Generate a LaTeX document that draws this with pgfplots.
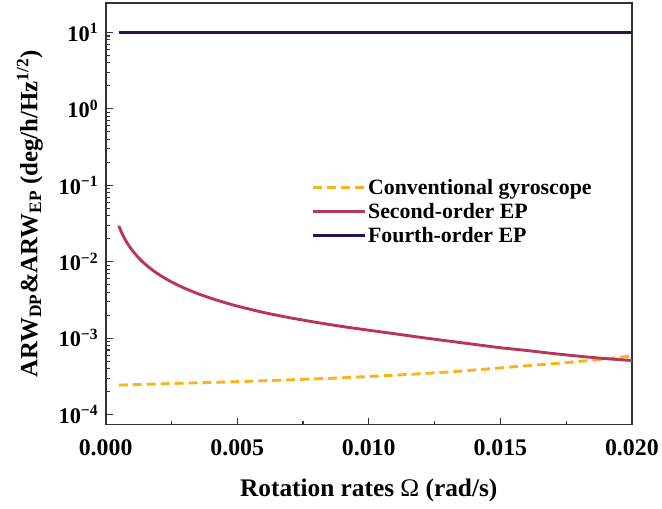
\documentclass[border=0pt]{standalone}
\usepackage{pgfplots}
\pgfplotsset{compat=1.18}
\usepackage{fontspec}
\setmainfont{Liberation Serif}
\definecolor{cgold}{HTML}{FDB219}
\definecolor{cred}{HTML}{B8365A}
\definecolor{cpurp}{HTML}{2D0F56}
\definecolor{axgray}{HTML}{333333}
\begin{document}
\begin{tikzpicture}
\begin{axis}[
  scale only axis,
  width=528bp, height=423bp,
  xmin=0, xmax=0.02,
  ymode=log, ymin=7.4e-5, ymax=24.3,
  axis line style={axgray, line width=1.8pt},
  tick style={axgray, line width=1.2pt},
  tick align=inside,
  xtick pos=bottom, ytick pos=left,
  major tick length=7bp, minor tick length=4bp,
  xtick={0,0.005,0.01,0.015,0.02},
  minor xtick={0.0025,0.0075,0.0125,0.0175},
  scaled x ticks=false,
  xticklabel style={/pgf/number format/fixed, /pgf/number format/fixed zerofill,
    /pgf/number format/precision=3, /pgf/number format/assume math mode=true,
    anchor=base, yshift=-31bp, font=\bfseries\fontsize{24}{24}\selectfont},
  ytick={1e-4,1e-3,1e-2,1e-1,1,10},
  yticklabels={10\textsuperscript{−4},10\textsuperscript{−3},10\textsuperscript{−2},10\textsuperscript{−1},10\textsuperscript{0},10\textsuperscript{1}},
  yticklabel style={xshift=-4bp, font=\bfseries\fontsize{22.5}{22.5}\selectfont},
  xlabel={Rotation rates {\mdseries Ω} (rad/s)},
  ylabel={ARW\textsubscript{DP}\&ARW\textsubscript{EP} (deg/h/Hz\textsuperscript{1/2})},
  every axis x label/.style={at={(axis description cs:0.5,-0.17)}, anchor=base,
    font=\bfseries\fontsize{25.5}{25.5}\selectfont},
  every axis y label/.style={at={(axis description cs:-0.144,0.5)}, anchor=center, rotate=90,
    font=\bfseries\fontsize{25}{25}\selectfont},
  legend style={at={(axis description cs:0.385,0.592)}, anchor=north west, draw=none, fill=none,
    font=\bfseries\fontsize{22}{22}\selectfont, row sep=3.5bp,
    legend cell align=left,
    /tikz/every even column/.append style={column sep=3bp}},
  legend image code/.code={\draw[#1, sharp plot] (0bp,0bp) -- (52bp,0bp);},
]
\addplot[cgold, line width=2.9bp, dash pattern=on 9bp off 5bp] coordinates {
(0.0005,2.43e-4) (0.0025,2.55e-4) (0.0045,2.66e-4) (0.0065,2.81e-4)
(0.0085,2.98e-4) (0.0100,3.15e-4) (0.0115,3.35e-4) (0.0130,3.60e-4)
(0.0145,3.95e-4) (0.0160,4.35e-4) (0.0175,4.78e-4) (0.0190,5.35e-4)
(0.0200,5.85e-4)};
\addlegendentry{Conventional gyroscope}
\addplot[cred, line width=2.9bp, smooth] coordinates {
(0.0005,0.0295) (0.0006,0.02436) (0.0007,0.02072) (0.0008,0.01801)
(0.0009,0.01592) (0.0010,0.01425) (0.0012,0.01177) (0.0014,0.01001)
(0.0016,0.00871) (0.0018,0.00769) (0.0020,0.00688) (0.0023,0.00595)
(0.0026,0.00523) (0.0030,0.00450) (0.0035,0.00383) (0.0040,0.00333)
(0.0045,0.00294) (0.0050,0.00263) (0.0060,0.00217) (0.0070,0.00185)
(0.0080,0.00161) (0.0090,0.00142) (0.0100,0.00127) (0.0110,0.00114)
(0.0120,0.00102) (0.0130,0.00092) (0.0140,0.00083) (0.0150,0.00075)
(0.0160,0.00069) (0.0170,0.00063) (0.0180,0.00058) (0.0190,0.00054)
(0.0200,0.00051)};
\addlegendentry{Second-order EP}
\addplot[cpurp, line width=2.9bp] coordinates {(0.0005,10) (0.0200,10)};
\addlegendentry{Fourth-order EP}
\end{axis}
\path ([xshift=-106bp,yshift=-84bp]current axis.south west) rectangle ([xshift=28bp,yshift=3bp]current axis.north east);
\end{tikzpicture}
\end{document}
